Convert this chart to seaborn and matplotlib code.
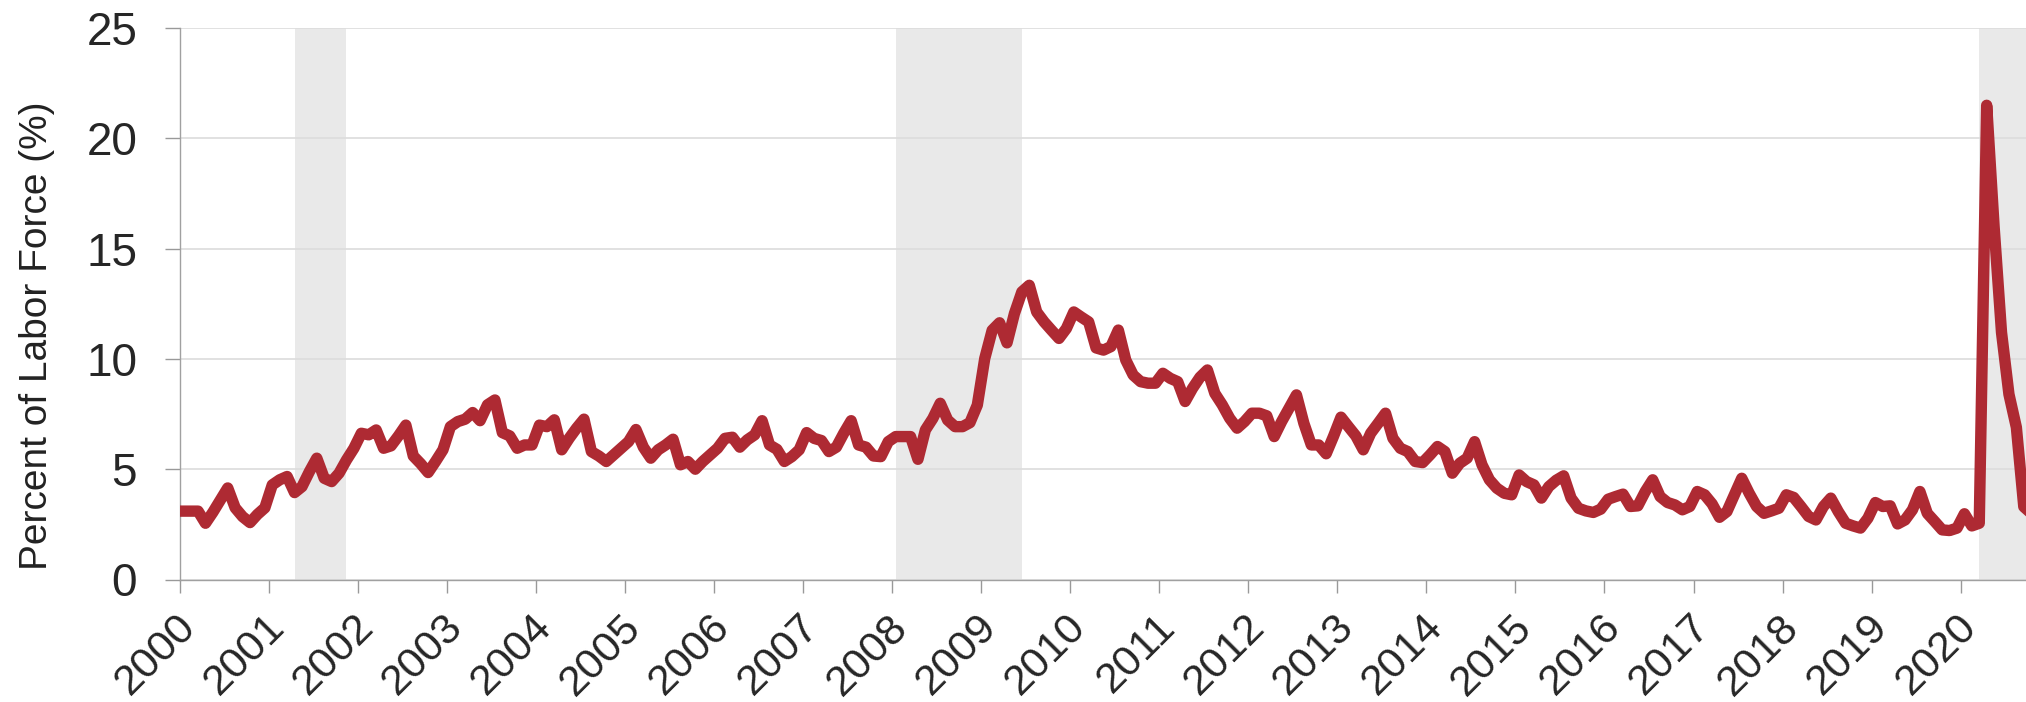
import numpy as np
import pandas as pd
import matplotlib
matplotlib.use("Agg")
import matplotlib.pyplot as plt
import matplotlib.transforms as mtransforms
import seaborn as sns

# ---- data: monthly values (Jan..Dec) ----
v2000 = [3.1, 3.1, 3.1, 2.55, 3.05, 3.6, 4.15, 3.25, 2.85, 2.58, 2.95, 3.25]
v2001 = [4.29, 4.52, 4.67, 3.94, 4.21, 4.89, 5.5, 4.59, 4.44, 4.82, 5.42, 5.95]
v2002 = [6.63, 6.56, 6.78, 5.95, 6.06, 6.51, 7.0, 5.6, 5.25, 4.85, 5.35, 5.88]
v2003 = [6.93, 7.16, 7.27, 7.57, 7.2, 7.92, 8.14, 6.66, 6.51, 5.95, 6.1, 6.1]
v2004 = [7.0, 6.93, 7.24, 5.88, 6.4, 6.86, 7.27, 5.8, 5.6, 5.35, 5.65, 5.95]
v2005 = [6.25, 6.8, 6.0, 5.5, 5.88, 6.1, 6.36, 5.2, 5.35, 5.0, 5.35, 5.65]
v2006 = [5.95, 6.4, 6.45, 6.0, 6.33, 6.56, 7.2, 6.1, 5.9, 5.35, 5.57, 5.88]
v2007 = [6.66, 6.4, 6.3, 5.8, 6.0, 6.63, 7.2, 6.1, 6.0, 5.6, 5.57, 6.25]
v2008 = [6.48, 6.48, 6.48, 5.45, 6.78, 7.3, 7.99, 7.23, 6.93, 6.93, 7.11, 7.91]
v2009 = [10.02, 11.3, 11.64, 10.73, 12.06, 13.04, 13.34, 12.13, 11.68, 11.3, 10.93, 11.38]
v2010 = [12.13, 11.9, 11.68, 10.5, 10.4, 10.56, 11.31, 9.95, 9.27, 8.97, 8.9, 8.9]
v2011 = [9.35, 9.12, 8.97, 8.07, 8.67, 9.17, 9.5, 8.44, 7.92, 7.31, 6.86, 7.16]
v2012 = [7.54, 7.54, 7.42, 6.48, 7.16, 7.77, 8.37, 7.08, 6.1, 6.1, 5.7, 6.5]
v2013 = [7.36, 6.93, 6.51, 5.88, 6.63, 7.08, 7.54, 6.4, 5.95, 5.8, 5.35, 5.3]
v2014 = [5.65, 6.03, 5.8, 4.82, 5.27, 5.5, 6.25, 5.2, 4.52, 4.14, 3.91, 3.84]
v2015 = [4.74, 4.44, 4.29, 3.69, 4.21, 4.5, 4.7, 3.69, 3.23, 3.11, 3.04, 3.19]
v2016 = [3.64, 3.76, 3.87, 3.31, 3.34, 3.99, 4.52, 3.76, 3.49, 3.38, 3.16, 3.31]
v2017 = [3.99, 3.84, 3.43, 2.82, 3.08, 3.84, 4.59, 3.91, 3.31, 3.0, 3.11, 3.23]
v2018 = [3.84, 3.72, 3.3, 2.86, 2.7, 3.31, 3.69, 3.08, 2.55, 2.43, 2.33, 2.78]
v2019 = [3.49, 3.31, 3.34, 2.52, 2.7, 3.16, 3.99, 3.0, 2.63, 2.25, 2.22, 2.33]
v2020 = [2.98, 2.43, 2.55, 21.5, 16.0, 11.2, 8.4, 6.9, 3.3, 3.0]

years = list(range(2000, 2021))
yearly = [v2000, v2001, v2002, v2003, v2004, v2005, v2006, v2007, v2008, v2009,
          v2010, v2011, v2012, v2013, v2014, v2015, v2016, v2017, v2018, v2019, v2020]

# recession periods (decimal years)
rec_start = [2001.30, 2008.05, 2020.21]
rec_end = [2001.87, 2009.46, 2021.00]

ytick_vals = [0, 5, 10, 15, 20, 25]
xtick_years = list(range(2000, 2021))
ylabel = "Percent of Labor Force (%)"

# ---- build table (monthly points plotted mid-month) ----
xs, vals = [], []
for yr, arr in zip(years, yearly):
    for m, v in enumerate(arr):
        xs.append(yr + (m + 0.5) / 12.0)
        vals.append(v)
df = pd.DataFrame({"date": xs, "rate": vals})

# ---- style ----
sns.set_style("white")
plt.rcParams["font.family"] = ["Liberation Sans", "DejaVu Sans"]

W, H = 2026, 702
fig = plt.figure(figsize=(W / 100, H / 100), dpi=100)
left_px, right_px, top_px, bottom_px = 179.5, 2026, 28.1, 579.5
ax = fig.add_axes([left_px / W, 1 - bottom_px / H,
                   (right_px - left_px) / W, (bottom_px - top_px) / H])

for s, e in zip(rec_start, rec_end):
    ax.axvspan(s, e, color="#e9e9e9", zorder=0.2, lw=0)

ax.set_axisbelow(True)
ax.yaxis.grid(True, color="#dcdcdc", linewidth=1.2, zorder=0.5)
ax.xaxis.grid(False)

sns.lineplot(data=df, x="date", y="rate", ax=ax, color="#ae2a33",
             linewidth=8.2, zorder=3)
for ln in ax.get_lines():
    ln.set_solid_joinstyle("round")
    ln.set_solid_capstyle("projecting")

ax.set_xlim(2000, 2000 + (W - left_px) / 89.06)
ax.set_ylim(0, 25)

ax.set_yticks(ytick_vals)
ax.set_yticklabels([str(v) for v in ytick_vals], fontsize=33)
ax.set_xticks(xtick_years)
ax.set_xticklabels([str(y) for y in xtick_years], fontsize=31,
                   rotation=45, ha="right", va="center", rotation_mode="anchor")

ax.tick_params(axis="x", length=9, width=1, color="#999999", pad=21, bottom=True)
ax.tick_params(axis="y", length=10.5, width=1, color="#999999", pad=20, left=True)

# nudge rotated year labels slightly right
shift = mtransforms.ScaledTranslation(10 / 100, 0, fig.dpi_scale_trans)
for lab in ax.get_xticklabels():
    lab.set_transform(lab.get_transform() + shift)

for side in ["top", "right"]:
    ax.spines[side].set_visible(False)
for side in ["left", "bottom"]:
    ax.spines[side].set_color("#a0a0a0")
    ax.spines[side].set_linewidth(1.0)

ax.set_xlabel("")
ax.set_ylabel(ylabel, fontsize=28, color="#222222", va="center")
ax.yaxis.set_label_coords((36.6 - left_px) / (right_px - left_px),
                          (bottom_px - 336) / (bottom_px - top_px))

fig.savefig("out.png", dpi=100)
